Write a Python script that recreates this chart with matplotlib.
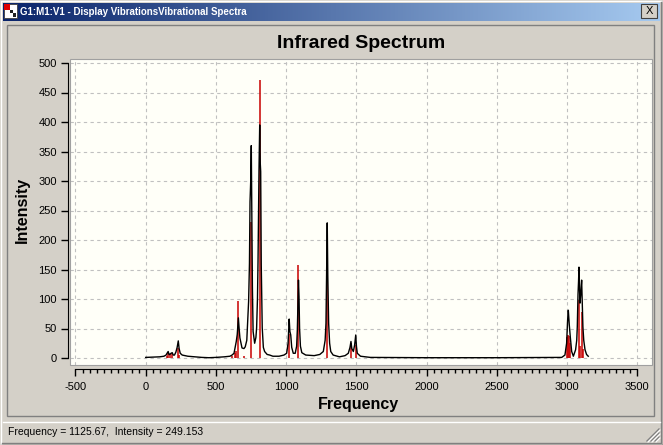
import numpy as np
import matplotlib
matplotlib.use('Agg')
import matplotlib.pyplot as plt
from matplotlib.colors import LinearSegmentedColormap
from matplotlib.patches import Rectangle
from matplotlib.ticker import FixedLocator

# broadened spectrum (black line)
curve_freq = [0, 50, 100, 130, 145, 152, 160, 166, 172, 180, 189, 196, 205, 215, 224, 232, 238, 246,
              260, 300, 400, 450, 500, 560, 600, 615, 629, 645, 652, 660, 666, 671, 686, 700, 709,
              720, 733, 739, 743, 748, 752, 756, 760, 765, 776, 785, 790, 796, 800, 807, 812, 816,
              819, 823, 830, 838, 847, 865, 883, 906, 950, 985, 1004, 1014, 1022, 1027, 1033, 1040,
              1051, 1065, 1075, 1080, 1084, 1088, 1092, 1096, 1102, 1112, 1140, 1200, 1240, 1265,
              1278, 1284, 1289, 1293, 1297, 1303, 1310, 1318, 1335, 1380, 1420, 1443, 1455, 1462,
              1468, 1479, 1488, 1496, 1501, 1507, 1530, 1600, 2000, 2500, 2900, 2963, 2986, 2998,
              3005, 3010, 3014, 3017, 3024, 3034, 3046, 3062, 3070, 3074, 3079, 3083, 3086, 3090,
              3093, 3099, 3105, 3109, 3114, 3120, 3129, 3140, 3152]
curve_int = [1, 1.5, 2, 3, 5, 8, 11, 6, 6, 8, 9, 5, 5, 10, 18, 29, 16, 8,
             5, 3, 1, 0.5, 1, 2, 3, 5, 8, 28, 40, 68, 48, 34, 17, 16, 19,
             30, 96, 160, 265, 300, 360, 240, 120, 45, 25, 35, 51, 100, 163, 319, 395, 330,
             316, 158, 51, 18, 11, 6, 5, 3, 3, 5, 8, 25, 66, 45, 39, 18,
             8, 8, 20, 47, 90, 132, 104, 50, 20, 9, 5, 4, 6, 11,
             30, 59, 150, 229, 140, 59, 25, 11, 5, 2, 4, 8, 18, 28,
             16, 11, 22, 39, 20, 8, 3, 1, 0.5, 0.5, 1, 1, 5, 25,
             64, 81, 65, 56, 36, 11, 3, 14, 30, 53, 107, 130, 154, 120,
             93, 110, 132, 95, 53, 30, 14, 6, 3]

# stick spectrum (red lines)
stick_freq = [155, 160, 175, 190, 232, 240, 612, 636, 645, 660, 700, 752, 812, 1022, 1088, 1292,
              1462, 1497, 3004, 3009, 3014, 3020, 3087, 3094, 3105, 3112]
stick_int = [4, 9, 6, 8, 17, 5, 3, 8, 12, 97, 4, 231, 471, 40, 158, 155,
             25, 22, 35, 39, 37, 25, 98, 20, 78, 15]

x_major = list(range(-500, 3501, 500))
x_minor = list(range(-500, 3501, 50))
y_major = list(range(0, 501, 50))

W, H = 663, 445
GREY = '#D4D0C8'
plt.rcParams['font.family'] = ['Liberation Sans', 'DejaVu Sans']
plt.rcParams['axes.unicode_minus'] = False

fig = plt.figure(figsize=(W / 100, H / 100), dpi=100, facecolor=GREY)

# window chrome drawn in pixel coords
bg = fig.add_axes([0, 0, 1, 1])
bg.set_zorder(0)
bg.axis('off')
tb_cmap = LinearSegmentedColormap.from_list('tb', ['#0A246A', '#A6CAF0'])
bg.imshow(np.linspace(0, 1, 256).reshape(1, -1), cmap=tb_cmap, extent=(3, 660, 21, 3), aspect='auto')
bg.set_xlim(0, W)
bg.set_ylim(H, 0)

# outer border
bg.plot([0.5, 0.5, W - 0.5], [H, 0.5, 0.5], color='#FFFFFF', lw=1)
bg.plot([0.5, W - 0.5, W - 0.5], [H - 0.5, H - 0.5, 0.5], color='#404040', lw=1)
bg.plot([2, W - 2, W - 2], [H - 2, H - 2, 2], color='#808080', lw=1)

# icon + caption
bg.add_patch(Rectangle((4, 4), 13, 14, facecolor='white', edgecolor='#404040', lw=0.6))
bg.add_patch(Rectangle((4, 4), 6, 6, facecolor='#E00000', edgecolor='none'))
bg.add_patch(Rectangle((10, 10), 3, 3, facecolor='#202020', edgecolor='none'))
bg.add_patch(Rectangle((13, 13), 3, 4, facecolor='#202020', edgecolor='none'))
bg.text(20, 12, 'G1:M1:V1 - Display VibrationsVibrational Spectra', color='white',
        fontsize=7, fontweight='bold', va='center', ha='left',
        family=['Liberation Sans Narrow', 'Liberation Sans'])

# close button
bg.add_patch(Rectangle((641, 4), 16, 14, facecolor=GREY, edgecolor='#404040', lw=0.8))
bg.text(649, 11.5, 'X', fontsize=8, ha='center', va='center', color='black')

# panel frame
bg.add_patch(Rectangle((7, 25), 647, 391, facecolor='none', edgecolor='#808080', lw=1))
bg.plot([3, W - 3], [421.5, 421.5], color='white', lw=1)

# status bar
bg.text(8, 432, 'Frequency = 1125.67,  Intensity = 249.153', fontsize=7.5, va='center', ha='left')
for d in (4, 8, 12):
    bg.plot([W - 4 - d, W - 4], [H - 4, H - 4 - d], color='#808080', lw=1)
    bg.plot([W - 3 - d, W - 3], [H - 3, H - 3 - d], color='white', lw=0.8)

# the plot itself
ax_l, ax_r, ax_t, ax_b = 70, 652, 59, 365
ax = fig.add_axes([ax_l / W, 1 - ax_b / H, (ax_r - ax_l) / W, (ax_b - ax_t) / H])
ax.set_zorder(1)
ax.set_facecolor('#FFFFF8')

x0 = 145.7
ppx = 0.1404
y0 = 358
ppy = 0.59
ax.set_xlim((ax_l - x0) / ppx, (ax_r - x0) / ppx)
ax.set_ylim((y0 - ax_b) / ppy, (y0 - ax_t) / ppy)

ax.vlines(stick_freq, 0, stick_int, color='#C80000', lw=1.1, zorder=2)
ax.plot(curve_freq, curve_int, color='black', lw=1, zorder=3)

ax.xaxis.set_major_locator(FixedLocator(x_major))
ax.xaxis.set_minor_locator(FixedLocator(x_minor))
ax.yaxis.set_major_locator(FixedLocator(y_major))
ax.grid(True, which='major', color='#C0C0C0', linestyle=(0, (3, 3)), lw=0.8)
ax.set_axisbelow(True)

for s in ('top', 'right'):
    ax.spines[s].set_visible(False)
ax.spines['left'].set_position(('outward', 1.5))
ax.spines['left'].set_bounds(0, 500)
ax.spines['bottom'].set_position(('outward', 3))
ax.spines['bottom'].set_bounds(-500, 3500)
ax.add_patch(Rectangle((0, 0), 1, 1, transform=ax.transAxes, fill=False,
                       edgecolor='#A0A0A0', lw=0.8, clip_on=False, zorder=4))

ax.tick_params(axis='y', which='major', direction='out', length=5, width=1, pad=3, labelsize=8)
ax.tick_params(axis='x', which='major', direction='out', length=5, width=1, pad=4, labelsize=8)
ax.tick_params(axis='x', which='minor', direction='out', length=3, width=1)

ax.set_title('Infrared Spectrum', fontsize=14, fontweight='bold', y=1.052, va='center', pad=0)
ax.set_xlabel('Frequency', fontsize=11.5, fontweight='bold')
ax.set_ylabel('Intensity', fontsize=11.5, fontweight='bold')
ax.xaxis.label.set_va('center')
ax.yaxis.label.set_va('center')
ax.xaxis.set_label_coords((358 - ax_l) / (ax_r - ax_l), -(405 - ax_b) / (ax_b - ax_t))
ax.yaxis.set_label_coords((22 - ax_l) / (ax_r - ax_l), (ax_b - 210) / (ax_b - ax_t))

fig.savefig('out.png', dpi=100, facecolor=GREY)
